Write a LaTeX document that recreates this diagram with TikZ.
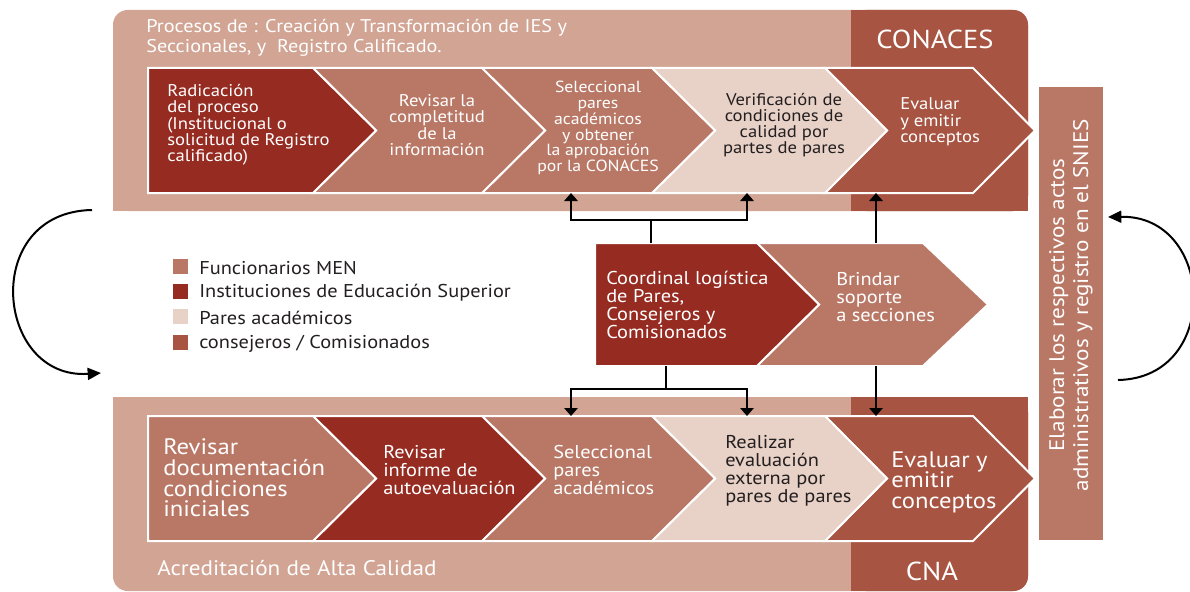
\documentclass[tikz,border=0pt]{standalone}
\usepackage{fontspec}
\setmainfont{PT Sans}[FakeStretch=1.1]
\usetikzlibrary{arrows.meta}
\definecolor{lightp}{RGB}{210,164,148}
\definecolor{darkp}{RGB}{167,84,66}
\definecolor{men}{RGB}{185,120,102}
\definecolor{ies}{RGB}{149,43,33}
\definecolor{pares}{RGB}{232,209,198}
\definecolor{ink}{RGB}{35,31,32}
\begin{document}
\begin{tikzpicture}[x=0.75pt,y=-0.75pt,
  chev/.style={draw=white,line width=1.5pt,line join=miter},
  txt/.style={inner sep=0pt,text=white,align=left},
  ctxt/.style={inner sep=0pt,text=white,align=center},
  conn/.style={line width=1.5pt,-{Triangle[length=6pt,width=10pt]}},
  seg/.style={line width=1.5pt},
  curv/.style={line width=1.5pt,-{Triangle[length=10pt,width=9pt]}},
  fA/.style={font=\fontsize{12.7}{12.2}\selectfont},
  fB/.style={font=\fontsize{12.1}{11.9}\selectfont},
  fC/.style={font=\fontsize{13.9}{13.6}\selectfont},
  fD/.style={font=\fontsize{16.8}{15.4}\selectfont},
  leg/.style={minimum size=11.25pt,inner sep=0pt},
  ]
\useasboundingbox (0,0) rectangle (1190,592);
% ---------- top panel ----------
\fill[lightp,rounded corners=11pt] (113,10) rectangle (1028,211);
\fill[lightp] (113,80) rectangle (1028,211);
\fill[darkp,rounded corners=11pt] (851,10) rectangle (1028,211);
\fill[darkp] (851,10) rectangle (950,211);
\fill[darkp] (851,80) rectangle (1028,211);
% ---------- bottom panel ----------
\fill[lightp,rounded corners=11pt] (113,397) rectangle (1028,591);
\fill[lightp] (113,397) rectangle (1028,520);
\fill[darkp,rounded corners=11pt] (851,397) rectangle (1028,591);
\fill[darkp] (851,397) rectangle (950,591);
\fill[darkp] (851,397) rectangle (1028,520);
% ---------- panel labels ----------
\node[txt,anchor=west,font=\fontsize{13.8}{15}\selectfont] (ttl) at (146,38) {Procesos de : Creación y Transformación de IES y\\Seccionales, y\ \ Registro Calificado.};
\node[ctxt,font=\fontsize{19.5}{19.5}\selectfont] (conaces) at (935,39) {CONACES};
\node[txt,anchor=west,font=\fontsize{15.8}{16}\selectfont] (acr) at (157,568) {Acreditación de Alta Calidad};
\node[ctxt,font=\fontsize{19.5}{19.5}\selectfont] (cna) at (932,571) {CNA};
% ---------- top chevrons ----------
\path[chev,fill=darkp] (825,68)--(973,68)--(1035,130.5)--(973,193)--(825,193)--(887,130.5)--cycle;
\path[chev,fill=pares] (652,68)--(825,68)--(887,130.5)--(825,193)--(652,193)--(715,130.5)--cycle;
\path[chev,fill=men] (482,68)--(652,68)--(715,130.5)--(652,193)--(482,193)--(545,130.5)--cycle;
\path[chev,fill=men] (313,68)--(482,68)--(545,130.5)--(482,193)--(313,193)--(376,130.5)--cycle;
\path[chev,fill=ies] (148,68)--(313,68)--(376,130.5)--(313,193)--(148,193)--cycle;
\node[txt,fA,anchor=west] (t1) at (167,125) {Radicación\\del proceso\\(Institucional o\\solicitud de Registro\\calificado)};
\node[ctxt,fA] (t2) at (437,125) {Revisar la\\completitud\\de la\\información};
\node[ctxt,fB] (t3) at (598,128) {Seleccional\\pares\\académicos\\y obtener\\la aprobación\\por la CONACES};
\node[ctxt,fA,text=ink] (t4) at (784,125) {Verificación de\\condiciones de\\calidad por\\partes de pares};
\node[txt,fA,anchor=west] (t5) at (900,122) {Evaluar\\y emitir\\conceptos};
% ---------- bottom chevrons ----------
\path[chev,fill=darkp] (825,416)--(973,416)--(1035,478.5)--(973,541)--(825,541)--(887,478.5)--cycle;
\path[chev,fill=pares] (652,416)--(825,416)--(887,478.5)--(825,541)--(652,541)--(715,478.5)--cycle;
\path[chev,fill=men] (482,416)--(652,416)--(715,478.5)--(652,541)--(482,541)--(545,478.5)--cycle;
\path[chev,fill=ies] (313,416)--(482,416)--(545,478.5)--(482,541)--(313,541)--(376,478.5)--cycle;
\path[chev,fill=men] (148,416)--(313,416)--(376,478.5)--(313,541)--(148,541)--cycle;
\node[txt,fD,anchor=west] (b1) at (163,478) {Revisar\\documentación\\condiciones\\iniciales};
\node[txt,fC,anchor=west] (b2) at (383,470) {Revisar\\informe de\\autoevaluación};
\node[txt,fC,anchor=west] (b3) at (553,470) {Seleccional\\pares\\académicos};
\node[txt,fC,anchor=west,text=ink] (b4) at (725,471) {Realizar\\evaluación\\externa por\\pares de pares};
\node[txt,fD,anchor=west] (b5) at (891,482) {Evaluar y\\emitir\\conceptos};
% ---------- middle chevrons ----------
\path[chev,fill=men] (757,243)--(923,243)--(988,304.5)--(923,366)--(757,366)--(819,304.5)--cycle;
\path[chev,fill=ies] (595,243)--(757,243)--(819,304.5)--(757,366)--(595,366)--cycle;
\node[txt,fC,anchor=west] (m1) at (606,305) {Coordinal logística\\de Pares,\\Consejeros y\\Comisionados};
\node[txt,fC,anchor=west] (m2) at (836,297) {Brindar\\soporte\\a secciones};
% ---------- right bar ----------
\fill[men] (1039,87) rectangle (1103,540);
\node[ctxt,rotate=90,font=\fontsize{15.8}{18}\selectfont] (snies) at (1071,305) {Elaborar los respectivos actos\\administrativos y registro en el SNIES};
% ---------- legend ----------
\node[leg,fill=men] (l1) at (180,266) {};
\node[leg,fill=ies] (l2) at (180,291) {};
\node[leg,fill=pares] (l3) at (180,316) {};
\node[leg,fill=darkp] (l4) at (180,342) {};
\node[txt,text=ink,anchor=west,font=\fontsize{13.9}{14}\selectfont] (lt1) at (199,268) {Funcionarios MEN};
\node[txt,text=ink,anchor=west,font=\fontsize{13.9}{14}\selectfont] (lt2) at (199,293) {Instituciones de Educación Superior};
\node[txt,text=ink,anchor=west,font=\fontsize{13.9}{14}\selectfont] (lt3) at (199,318) {Pares académicos};
\node[txt,text=ink,anchor=west,font=\fontsize{13.9}{14}\selectfont] (lt4) at (199,344) {consejeros / Comisionados};
% ---------- connectors ----------
\coordinate (m1top) at (651,243);
\coordinate (j1) at (651,220);
\coordinate (t3b) at (571,193);
\coordinate (t4b) at (747,193);
\coordinate (m2top) at (876,243);
\coordinate (t5b) at (876,193);
\coordinate (m1bot) at (666,366);
\coordinate (j2) at (666,389);
\coordinate (b3t) at (571,416);
\coordinate (b4t) at (747,416);
\coordinate (m2bot) at (876,366);
\coordinate (b5t) at (876,416);
\draw[seg] (m1top) -- (j1);
\draw[conn] (j1) -| (t3b);
\draw[conn] (j1) -| (t4b);
\draw[conn] (m2top) -- (t5b);
\draw[seg] (m1bot) -- (j2);
\draw[conn] (j2) -| (b3t);
\draw[conn] (j2) -| (b4t);
\draw[conn] (m2bot) -- (b5t);
% ---------- curved arrows ----------
\coordinate (la) at (92,210);
\coordinate (lb) at (101,373);
\draw[curv] (la) .. controls (-20,212) and (-5,380) .. (lb);
\coordinate (ra) at (1118,380);
\coordinate (rb) at (1108,217);
\draw[curv] (ra) .. controls (1222,378) and (1215,215) .. (rb);
\end{tikzpicture}
\end{document}
